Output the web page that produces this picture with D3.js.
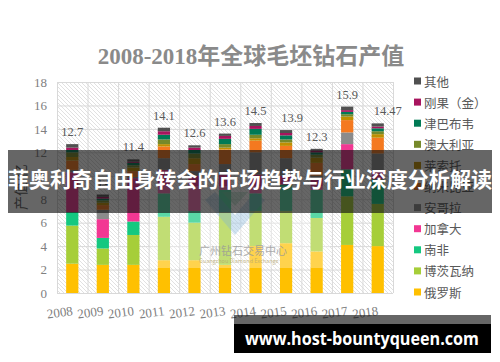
<!DOCTYPE html>
<html>
<head>
<meta charset="utf-8">
<script src="https://cdn.jsdelivr.net/npm/d3@7"></script>
<style>
  body { margin: 0; background: #fff; }
</style>
</head>
<body>
<svg id="chart" width="500" height="362"></svg>
<script>
// data (values in the chart's own unit)
const years = ['2008', '2009', '2010', '2011', '2012', '2013', '2014', '2015', '2016', '2017', '2018'];
const seriesNames = ['俄罗斯', '博茨瓦纳', '南非', '加拿大', '安哥拉', '纳米比亚', '莱索托', '澳大利亚', '津巴布韦', '刚果（金）', '其他'];
const russia     = [2.5, 2.4, 2.4, 2.8, 2.8, 2.4, 4.0, 4.25, 3.55, 4.1, 4.0];
const botswana   = [3.25, 1.4, 2.55, 3.7, 3.2, 4.5, 3.0, 2.75, 2.85, 4.15, 3.6];
const southAfrica= [1.15, 0.9, 1.15, 2.0, 1.0, 1.9, 1.5, 2.25, 2.4, 2.3, 2.1];
const canada     = [3.4, 1.6, 3.7, 2.0, 3.0, 1.3, 1.6, 0.75, 1.0, 2.15, 0.7];
const angola     = [0.2, 0.8, 0.1, 1.0, 0.4, 0.9, 1.9, 1.5, 0.2, 1.0, 1.5];
const namibia    = [0.8, 0.4, 0.5, 1.0, 0.6, 1.25, 1.0, 1.05, 1.1, 1.05, 1.35];
const lesotho    = [0.3, 0.2, 0.3, 0.2, 0.5, 0.15, 0.2, 0.3, 0.45, 0.3, 0.3];
const australia  = [0.4, 0.2, 0.2, 0.4, 0.4, 0.3, 0.3, 0.25, 0.25, 0.2, 0.25];
const zimbabwe   = [0.2, 0.15, 0.2, 0.4, 0.3, 0.45, 0.5, 0.35, 0.2, 0.2, 0.25];
const congo      = [0.2, 0.15, 0.1, 0.3, 0.2, 0.25, 0.25, 0.2, 0.15, 0.15, 0.15];
const others     = [0.3, 0.2, 0.2, 0.3, 0.2, 0.2, 0.25, 0.25, 0.15, 0.3, 0.27];
const totalLabels = ['12.7', '8.4', '11.4', '14.1', '12.6', '13.6', '14.5', '13.9', '12.3', '15.9', '14.47'];
const yTicks = [0, 2, 4, 6, 8, 10, 12, 14, 16, 18];

const seriesValues = [russia, botswana, southAfrica, canada, angola, namibia, lesotho, australia, zimbabwe, congo, others];
const colors = ['#FFC000', '#A6CE39', '#14C880', '#F23793', '#8B8B8B', '#F47920', '#BF8F00', '#76892A', '#007A55', '#A8145E', '#505050'];

const serif = '"Liberation Serif", "DejaVu Serif", "Noto Sans CJK SC", serif';
const sans = '"Noto Sans CJK SC", "Noto Sans", sans-serif';

const svg = d3.select('#chart');
const margin = { left: 57, right: 107, top: 82, bottom: 69 };
const width = 500 - margin.left - margin.right;
const height = 362 - margin.top - margin.bottom;

const table = years.map((yr, i) => {
  const row = { year: yr };
  seriesNames.forEach((name, s) => { row[name] = seriesValues[s][i]; });
  return row;
});
const stacked = d3.stack().keys(seriesNames)(table);

const x = d3.scaleBand().domain(years).range([0, width]).paddingInner(0.6).paddingOuter(0.3);
const xCell = d3.scaleBand().domain(years).range([0, width]);
const y = d3.scaleLinear().domain([0, 18]).range([height, 0]);
const color = d3.scaleOrdinal().domain(seriesNames).range(colors);

// hatch background
const defs = svg.append('defs');
defs.append('pattern')
  .attr('id', 'hatch')
  .attr('patternUnits', 'userSpaceOnUse')
  .attr('width', 4).attr('height', 4)
  .append('path')
  .attr('d', 'M0,0 L4,4 M-1,3 L1,5 M3,-1 L5,1')
  .attr('stroke', '#d4d4d4')
  .attr('stroke-width', 0.7);

// title
svg.append('text')
  .attr('x', 251).attr('y', 64)
  .attr('text-anchor', 'middle')
  .attr('font-family', serif)
  .attr('font-weight', 'bold')
  .attr('font-size', 23)
  .attr('fill', '#8a8a8a')
  .text('2008-2018年全球毛坯钻石产值');

const g = svg.append('g').attr('transform', `translate(${margin.left},${margin.top})`);

g.append('rect')
  .attr('width', width).attr('height', height)
  .attr('fill', 'url(#hatch)');

// grid
g.selectAll('.hgrid')
  .data(yTicks)
  .enter().append('line')
  .attr('x1', 0).attr('x2', width)
  .attr('y1', d => y(d) + 0.5).attr('y2', d => y(d) + 0.5)
  .attr('stroke', '#d9d9d9');

g.selectAll('.vgrid')
  .data(years.concat(['end']))
  .enter().append('line')
  .attr('x1', d => (d === 'end' ? width : xCell(d)) + 0.5)
  .attr('x2', d => (d === 'end' ? width : xCell(d)) + 0.5)
  .attr('y1', 0).attr('y2', height)
  .attr('stroke', '#d9d9d9');

// y axis
const yAxis = g.append('g')
  .call(d3.axisLeft(y).tickValues(yTicks).tickSize(0).tickPadding(10));
yAxis.select('.domain').remove();
yAxis.selectAll('text')
  .attr('font-family', serif)
  .attr('font-size', 13)
  .attr('fill', '#808080');

svg.append('text')
  .attr('transform', 'translate(26,187) rotate(-90)')
  .attr('text-anchor', 'middle')
  .attr('font-family', serif)
  .attr('font-size', 14)
  .attr('fill', '#595959')
  .text('产值/亿');

// stacked bars
g.selectAll('.series')
  .data(stacked)
  .enter().append('g')
  .attr('fill', d => color(d.key))
  .selectAll('rect')
  .data(d => d)
  .enter().append('rect')
  .attr('x', d => x(d.data.year))
  .attr('y', d => y(d[1]))
  .attr('width', x.bandwidth())
  .attr('height', d => y(d[0]) - y(d[1]));

// total labels
const labelNudge = { '2015': 6, '2018': 10 };
const topOf = stacked[stacked.length - 1];
g.selectAll('.total')
  .data(topOf)
  .enter().append('text')
  .attr('x', (d, i) => x(years[i]) + x.bandwidth() / 2 + (labelNudge[years[i]] || 0))
  .attr('y', d => y(d[1]) - 8)
  .attr('text-anchor', 'middle')
  .attr('font-family', serif)
  .attr('font-size', 12.5)
  .attr('fill', '#595959')
  .text((d, i) => totalLabels[i]);

// x labels, slightly tilted
g.selectAll('.year')
  .data(years)
  .enter().append('text')
  .attr('transform', d => `translate(${x(d) + x.bandwidth() / 2 + 1},${height + 22}) rotate(-8)`)
  .attr('text-anchor', 'end')
  .attr('font-family', serif)
  .attr('font-size', 13)
  .attr('fill', '#808080')
  .text(d => d);

// legend
const legendNames = seriesNames.slice().reverse();
const legend = svg.append('g').attr('transform', 'translate(414,81)');
const item = legend.selectAll('.item')
  .data(legendNames)
  .enter().append('g')
  .attr('transform', (d, i) => `translate(0,${i * 21.1})`);
item.append('rect')
  .attr('x', 0).attr('y', -3.5)
  .attr('width', 7).attr('height', 7)
  .attr('fill', d => color(d));
item.append('text')
  .attr('x', 10).attr('y', 0)
  .attr('dominant-baseline', 'central')
  .attr('font-family', sans)
  .attr('font-size', 12.5)
  .attr('fill', '#595959')
  .text(d => d);

// watermark of the source image
svg.append('rect')
  .attr('x', 150).attr('y', 186).attr('width', 180).attr('height', 82)
  .attr('fill', '#fff').attr('opacity', 0.3);
svg.append('path')
  .attr('d', 'M205,200 L235,235 L265,200 L255,192 L235,215 L215,192 Z')
  .attr('fill', '#7fb3d9').attr('opacity', 0.35);
svg.append('path')
  .attr('d', 'M222,192 L235,206 L248,192 Z')
  .attr('fill', '#86c9a8').attr('opacity', 0.35);
svg.append('text')
  .attr('x', 199).attr('y', 255)
  .attr('font-family', sans)
  .attr('font-size', 11)
  .attr('fill', '#9a9a9a').attr('opacity', 0.8)
  .text('广州钻石交易中心');
svg.append('text')
  .attr('x', 199).attr('y', 263)
  .attr('font-family', sans)
  .attr('font-size', 5.5)
  .attr('fill', '#b8a870').attr('opacity', 0.8)
  .text('Guangzhou Diamond Exchange');

// overlay banner
svg.append('rect')
  .attr('x', 8).attr('y', 150).attr('width', 484).attr('height', 63)
  .attr('fill', 'rgba(15,15,15,0.64)');
svg.append('text')
  .attr('x', 8).attr('y', 178)
  .attr('dominant-baseline', 'central')
  .attr('textLength', 484).attr('lengthAdjust', 'spacingAndGlyphs')
  .attr('font-family', sans)
  .attr('font-weight', 'bold')
  .attr('font-size', 21)
  .attr('fill', '#fff')
  .text('菲奥利奇自由身转会的市场趋势与行业深度分析解读');

// site address box
svg.append('rect')
  .attr('x', 234).attr('y', 315).attr('width', 257).attr('height', 10)
  .attr('fill', 'rgba(15,15,15,0.64)');
svg.append('rect')
  .attr('x', 234).attr('y', 324).attr('width', 257).attr('height', 29)
  .attr('fill', '#000');
svg.append('text')
  .attr('x', 245).attr('y', 338)
  .attr('dominant-baseline', 'central')
  .attr('textLength', 234).attr('lengthAdjust', 'spacingAndGlyphs')
  .attr('font-family', '"Open Sans", "DejaVu Sans", sans-serif')
  .attr('font-weight', 'bold')
  .attr('font-size', 17)
  .attr('fill', '#fff')
  .text('www.host-bountyqueen.com');
</script>
</body>
</html>
